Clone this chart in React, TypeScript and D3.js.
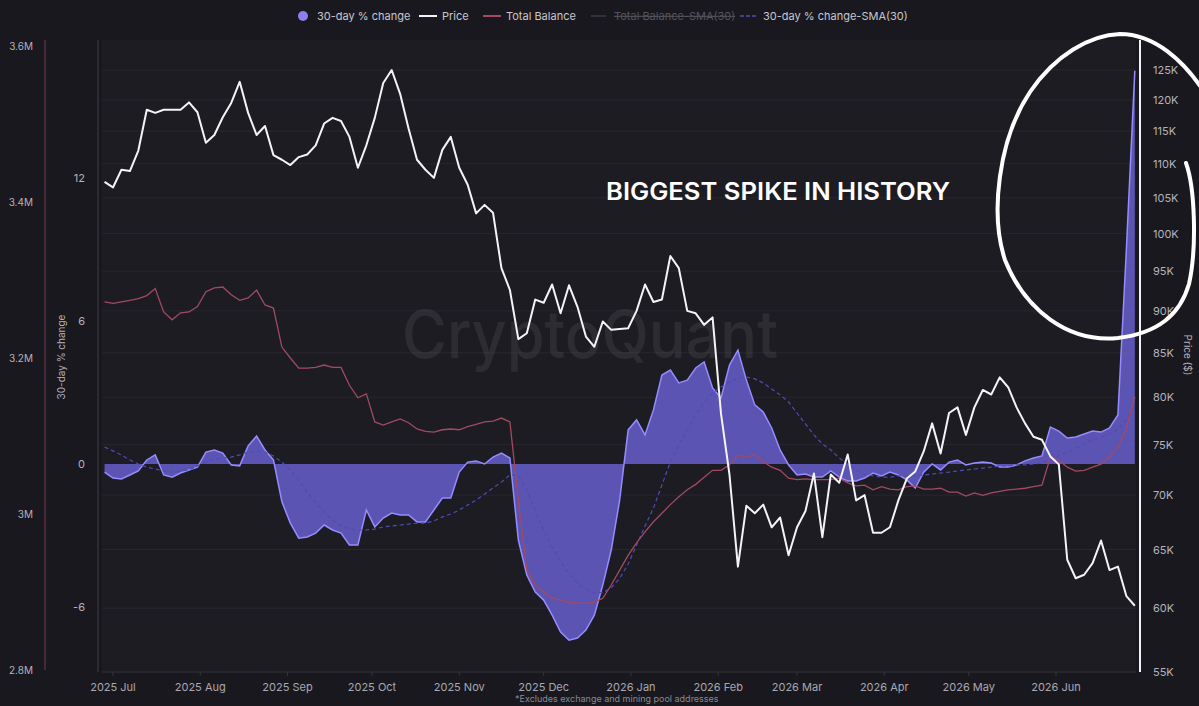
import React from 'react';
import * as d3 from 'd3';

// sampling: one value every 3 days starting 2025-06-28
const START = Date.UTC(2025, 5, 28);
const STEP_DAYS = 3;

// BTC price, thousands of $
const priceK = [
  107.3, 106.5, 109.1, 108.9, 112.0, 118.4, 117.9, 118.4, 118.4, 118.4,
  119.6, 118.0, 113.2, 114.4, 117.2, 119.5, 123.0, 117.9, 114.4, 115.8,
  111.3, 110.6, 109.8, 111.0, 111.4, 112.8, 116.2, 117.1, 116.6, 114.1,
  109.4, 112.8, 117.1, 122.8, 125.0, 121.0, 115.4, 110.6, 109.1, 107.9,
  112.1, 114.1, 109.4, 106.9, 102.8, 104.0, 102.9, 95.4, 92.6, 86.6,
  87.3, 91.4, 91.0, 93.3, 89.7, 93.2, 90.5, 86.9, 85.7, 88.7,
  87.7, 87.8, 87.9, 90.0, 93.3, 91.1, 91.4, 97.0, 95.4, 90.0,
  89.7, 88.3, 89.2, 78.2, 72.0, 63.5, 69.0, 68.3, 69.1, 67.0,
  67.9, 64.5, 67.0, 68.5, 72.1, 66.1, 72.0, 71.2, 74.0, 69.5,
  70.0, 66.5, 66.5, 67.0, 69.5, 71.6, 72.3, 74.3, 77.2, 74.1,
  78.3, 78.9, 76.0, 78.9, 80.8, 80.3, 82.2, 81.1, 78.9, 77.2,
  75.8, 75.5, 73.8, 73.0, 64.1, 62.5, 62.8, 63.8, 65.8, 63.2,
  63.5, 61.0, 60.2,
];

// Total balance, millions
const balanceM = [
  3.272, 3.270, 3.272, 3.274, 3.276, 3.280, 3.289, 3.259, 3.249, 3.258,
  3.259, 3.266, 3.285, 3.290, 3.291, 3.281, 3.274, 3.277, 3.287, 3.268,
  3.264, 3.214, 3.200, 3.187, 3.187, 3.188, 3.191, 3.188, 3.188, 3.165,
  3.149, 3.154, 3.118, 3.114, 3.118, 3.122, 3.117, 3.109, 3.106, 3.105,
  3.108, 3.109, 3.108, 3.112, 3.115, 3.118, 3.119, 3.123, 3.118, 3.018,
  2.928, 2.909, 2.900, 2.892, 2.890, 2.886, 2.886, 2.885, 2.887, 2.892,
  2.909, 2.928, 2.947, 2.963, 2.977, 2.990, 3.001, 3.012, 3.022, 3.031,
  3.038, 3.047, 3.056, 3.056, 3.063, 3.076, 3.073, 3.076, 3.067, 3.060,
  3.056, 3.046, 3.044, 3.045, 3.044, 3.044, 3.044, 3.046, 3.040, 3.036,
  3.037, 3.031, 3.035, 3.032, 3.031, 3.035, 3.036, 3.032, 3.032, 3.033,
  3.028, 3.028, 3.023, 3.027, 3.024, 3.027, 3.029, 3.031, 3.032, 3.033,
  3.035, 3.037, 3.073, 3.069, 3.060, 3.055, 3.056, 3.060, 3.064, 3.073,
  3.085, 3.110, 3.150,
];

// 30-day % change
const pctChange = [
  -0.34, -0.59, -0.63, -0.46, -0.29, 0.17, 0.38, -0.46, -0.55, -0.38,
  -0.25, -0.13, 0.50, 0.59, 0.46, -0.04, -0.08, 0.76, 1.17, 0.59,
  0.17, -1.59, -2.48, -3.11, -3.06, -2.90, -2.56, -2.77, -2.90, -3.40,
  -3.40, -1.93, -2.64, -2.27, -2.06, -2.14, -2.14, -2.43, -2.43, -1.93,
  -1.43, -1.43, -0.34, 0.08, 0.13, 0.00, 0.29, 0.46, 0.25, -3.19,
  -4.66, -5.37, -5.71, -6.34, -7.05, -7.39, -7.30, -6.97, -6.34, -5.08,
  -3.61, -1.51, 1.43, 1.85, 1.22, 2.27, 3.73, 3.94, 3.40, 3.52,
  4.03, 4.28, 3.19, 2.77, 4.15, 4.78, 3.52, 2.48, 2.18, 1.51,
  0.59, -0.04, -0.46, -0.42, -0.55, -0.55, -0.29, -0.55, -0.71, -0.71,
  -0.59, -0.38, -0.50, -0.34, -0.46, -0.67, -1.01, -0.34, 0.00, -0.25,
  0.08, 0.17, -0.04, 0.04, 0.08, 0.04, -0.13, -0.13, -0.04, 0.13,
  0.25, 0.34, 1.55, 1.38, 1.09, 1.13, 1.26, 1.38, 1.34, 1.51,
  2.06, 9.0, 16.5,
];

// 30-day % change SMA(30)
const pctSMA = [
  0.71, 0.55, 0.38, 0.17, 0.00, -0.13, -0.21, -0.29, -0.34, -0.29,
  -0.25, -0.08, 0.08, 0.21, 0.25, 0.29, 0.38, 0.50, 0.55, 0.50,
  0.34, 0.08, -0.25, -0.67, -1.17, -1.64, -2.01, -2.35, -2.60, -2.73,
  -2.77, -2.77, -2.73, -2.64, -2.60, -2.56, -2.52, -2.48, -2.48, -2.39,
  -2.22, -2.10, -1.93, -1.72, -1.51, -1.26, -1.01, -0.76, -0.46, -0.46,
  -1.09, -1.93, -2.77, -3.50, -4.10, -4.60, -5.00, -5.25, -5.40, -5.40,
  -5.20, -4.80, -4.20, -3.40, -2.60, -1.85, -0.88, 0.08, 0.80, 1.43,
  2.06, 2.60, 2.98, 3.23, 3.44, 3.61, 3.65, 3.57, 3.40, 3.15,
  2.90, 2.60, 2.14, 1.68, 1.22, 0.84, 0.59, 0.25, 0.00, -0.25,
  -0.42, -0.50, -0.55, -0.55, -0.50, -0.50, -0.50, -0.46, -0.42, -0.38,
  -0.34, -0.29, -0.25, -0.21, -0.17, -0.13, -0.08, -0.08, -0.04, -0.04,
  0.00, 0.04, 0.17, 0.34, 0.50, 0.67, 0.84, 1.01, 1.13, 1.26,
  1.43, 1.85, 2.48,
];

const priceTicks = [55, 60, 65, 70, 75, 80, 85, 90, 95, 100, 105, 110, 115, 120, 125];
const balanceTicks = [2.8, 3.0, 3.2, 3.4, 3.6];
const pctTicks = [-6, 0, 6, 12];

const legendItems = [
  { label: '30-day % change', kind: 'dot', x: 303 },
  { label: 'Price', kind: 'line', x: 419, color: '#f2f2f5' },
  { label: 'Total Balance', kind: 'line', x: 483, color: '#a24a5f' },
  { label: 'Total Balance-SMA(30)', kind: 'off', x: 591, color: '#3c3b44' },
  { label: '30-day % change-SMA(30)', kind: 'dash', x: 740, color: '#4f4cb8' },
];

const W = 1199;
const H = 706;
const FONT = "Inter, 'Noto Sans', sans-serif";

export default function App() {
  const rows = priceK.map((p, i) => ({
    date: new Date(START + i * STEP_DAYS * 86400000),
    price: p,
    bal: balanceM[i],
    pct: pctChange[i],
    sma: pctSMA[i],
  }));

  const x = d3.scaleUtc().domain([Date.UTC(2025, 6, 1), Date.UTC(2026, 5, 1)]).range([113, 1056]);
  const yPrice = d3.scaleLog().domain([55, 125]).range([672, 70]);
  const yBal = d3.scaleLinear().domain([2.8, 3.6]).range([670, 46]);
  const yPct = d3.scaleLinear().domain([-6, 12]).range([607, 178]);

  const months = d3.utcMonth.range(new Date(Date.UTC(2025, 6, 1)), new Date(Date.UTC(2026, 6, 1)));
  const fmtMonth = d3.utcFormat('%Y %b');

  const plotL = 102;
  const plotR = 1136;
  const plotT = 40;
  const plotB = 672;

  const area = d3.area<any>().x((d) => x(d.date)).y0(yPct(0)).y1((d) => yPct(d.pct));
  const pctLine = d3.line<any>().x((d) => x(d.date)).y((d) => yPct(d.pct));
  const smaLine = d3.line<any>().x((d) => x(d.date)).y((d) => yPct(d.sma));
  const balLine = d3.line<any>().x((d) => x(d.date)).y((d) => yBal(d.bal));
  const priceLine = d3.line<any>().x((d) => x(d.date)).y((d) => yPrice(d.price));

  return (
    <svg
      width={W}
      height={H}
      style={{ position: 'absolute', left: 0, top: 0, display: 'block' }}
      fontFamily={FONT}
    >
      <rect width={W} height={H} fill="#19181e" />
      <rect x={plotL} y={plotT} width={plotR - plotL} height={plotB - plotT} fill="#1d1c23" />

      {/* grid */}
      {priceTicks.slice(1).map((t) => (
        <line key={t} x1={plotL} x2={plotR} y1={yPrice(t)} y2={yPrice(t)} stroke="#28272f" strokeWidth={1} />
      ))}

      {/* watermark */}
      <text x={590} y={358} textAnchor="middle" fontSize={66} fontWeight={500} fill="#ffffff" fillOpacity={0.07} textLength={376} lengthAdjust="spacingAndGlyphs">
        CryptoQuant
      </text>

      {/* axes lines */}
      <line x1={45} x2={45} y1={plotT} y2={plotB - 2} stroke="#6a3345" strokeWidth={1.2} />
      <line x1={98} x2={98} y1={plotT} y2={plotB} stroke="#3a3940" strokeWidth={1.2} />
      <line x1={plotL} x2={plotR} y1={plotB} y2={plotB} stroke="#34333b" strokeWidth={1} />
      <line x1={1140} x2={1140} y1={plotT} y2={plotB} stroke="#f2f2f5" strokeWidth={2} />

      {/* % change area */}
      <path d={area(rows) || ''} fill="#6a60d2" fillOpacity={0.82} />
      <path d={pctLine(rows) || ''} fill="none" stroke="#958cff" strokeWidth={1.5} />
      <path d={smaLine(rows) || ''} fill="none" stroke="#4f4cb8" strokeWidth={1.2} strokeDasharray="4 3" />

      {/* balance */}
      <path d={balLine(rows) || ''} fill="none" stroke="#a24a5f" strokeWidth={1.3} />

      {/* price */}
      <path d={priceLine(rows) || ''} fill="none" stroke="#f4f4f7" strokeWidth={2} strokeLinejoin="round" />

      {/* left balance axis */}
      {balanceTicks.map((t) => (
        <text key={t} x={33} y={yBal(t) + 4} textAnchor="end" fontSize={10} fill="#b4b3bc">
          {`${+t.toFixed(1)}M`}
        </text>
      ))}
      {/* % axis */}
      {pctTicks.map((t) => (
        <text key={t} x={85} y={yPct(t) + 4} textAnchor="end" fontSize={11} fill="#b4b3bc">
          {t}
        </text>
      ))}
      <text transform="translate(65,357) rotate(-90)" textAnchor="middle" fontSize={10} fill="#b4b3bc">
        30-day % change
      </text>

      {/* price axis */}
      {priceTicks.map((t) => (
        <text key={t} x={1153} y={yPrice(t) + 4} fontSize={11} fill="#b4b3bc">
          {`${t}K`}
        </text>
      ))}
      <text transform="translate(1184,355) rotate(90)" textAnchor="middle" fontSize={10} fill="#b4b3bc">
        Price ($)
      </text>

      {/* x axis */}
      {months.map((m) => (
        <g key={m.getTime()}>
          <line x1={x(m)} x2={x(m)} y1={plotB} y2={plotB + 4} stroke="#34333b" />
          <text x={x(m)} y={plotB + 19} textAnchor="middle" fontSize={11} fill="#a9a8b1">
            {fmtMonth(m)}
          </text>
        </g>
      ))}
      <text x={515} y={702} fontSize={9} fill="#8a8992">
        *Excludes exchange and mining pool addresses
      </text>

      {/* legend */}
      {legendItems.map((it) => {
        const tx = it.kind === 'dot' ? it.x + 14 : it.x + 23;
        return (
          <g key={it.label}>
            {it.kind === 'dot' && <circle cx={it.x} cy={16} r={5} fill="#8a80f0" />}
            {it.kind === 'line' && <line x1={it.x} x2={it.x + 18} y1={16} y2={16} stroke={it.color} strokeWidth={2} />}
            {it.kind === 'off' && <line x1={it.x} x2={it.x + 15} y1={16} y2={16} stroke={it.color} strokeWidth={1.5} />}
            {it.kind === 'dash' && (
              <line x1={it.x} x2={it.x + 17} y1={16} y2={16} stroke={it.color} strokeWidth={1.5} strokeDasharray="4 2" />
            )}
            <text
              x={tx}
              y={20}
              fontSize={11}
              fill={it.kind === 'off' ? '#54535c' : '#c8c7cf'}
              textDecoration={it.kind === 'off' ? 'line-through' : undefined}
            >
              {it.label}
            </text>
          </g>
        );
      })}

      {/* annotation */}
      <text x={606} y={200} fontSize={24} fontWeight={600} fill="#ffffff" textLength={344} lengthAdjust="spacingAndGlyphs">
        BIGGEST SPIKE IN HISTORY
      </text>
      <path
        d="M1186,163 C1195,188 1197,248 1189,284 C1180,315 1158,333 1118,338 C1068,343 1025,310 1005,260 C990,215 998,140 1030,92 C1055,55 1090,35 1120,34 C1150,34 1185,55 1215,110"
        fill="none"
        stroke="#ffffff"
        strokeWidth={4}
        strokeLinecap="round"
      />
    </svg>
  );
}
